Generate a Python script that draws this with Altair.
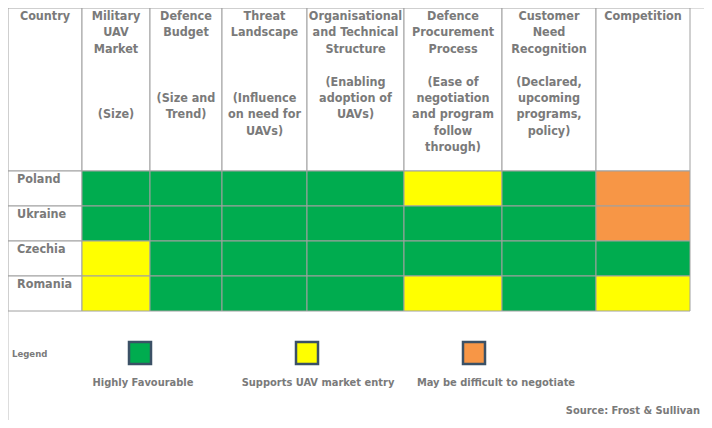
import altair as alt
import pandas as pd

# ---------------- data ----------------
countries = ["Poland", "Ukraine", "Czechia", "Romania"]

header_lines = [
    ["Country"],
    ["Military", "UAV", "Market", "", "", "", "(Size)"],
    ["Defence", "Budget", "", "", "", "(Size and", "Trend)"],
    ["Threat", "Landscape", "", "", "", "(Influence", "on need for", "UAVs)"],
    ["Organisational", "and Technical", "Structure", "", "(Enabling", "adoption of", "UAVs)"],
    ["Defence", "Procurement", "Process", "", "(Ease of", "negotiation", "and program", "follow", "through)"],
    ["Customer", "Need", "Recognition", "", "(Declared,", "upcoming", "programs,", "policy)"],
    ["Competition"],
]

# HF = Highly Favourable, S = Supports UAV market entry, D = May be difficult to negotiate
ratings = {
    "Poland":  ["HF", "HF", "HF", "HF", "S",  "HF", "D"],
    "Ukraine": ["HF", "HF", "HF", "HF", "HF", "HF", "D"],
    "Czechia": ["S",  "HF", "HF", "HF", "HF", "HF", "HF"],
    "Romania": ["S",  "HF", "HF", "HF", "S",  "HF", "S"],
}

legend_codes = ["HF", "S", "D"]
legend_labels = ["Highly Favourable", "Supports UAV market entry", "May be difficult to negotiate"]
legend_colors = ["#00AC4F", "#FFFF00", "#F79646"]
source_text = "Source: Frost & Sullivan"

# ---------------- layout ----------------
W, H = 696, 412
COL_W = [74, 68, 72, 85, 97, 98, 94, 94]
HEADER_H = 163
ROW_H = 35
LINE_H = 16.4
SWATCH_X = [132, 299, 466]
SWATCH_Y = 345
SWATCH_HALF = 11
LABEL_X = [135, 310, 488]
LABEL_Y = 375

FONT = "'DejaVu Sans Condensed', 'Roboto Condensed', Roboto, sans-serif"
GRAY = "#7a7a7a"
GRID = "#a0a0a0"

edges = [0]
for w in COL_W:
    edges.append(edges[-1] + w)

# ---------------- tables ----------------
cells = []
for i, c in enumerate(countries):
    for j, r in enumerate(ratings[c]):
        cells.append(dict(x0=edges[j + 1], x1=edges[j + 2],
                          y0=HEADER_H + i * ROW_H, y1=HEADER_H + (i + 1) * ROW_H,
                          rating=r))
cells = pd.DataFrame(cells)

frames = []
for j in range(len(COL_W)):
    frames.append(dict(x0=edges[j], x1=edges[j + 1], y0=0, y1=HEADER_H))
for i in range(len(countries)):
    frames.append(dict(x0=edges[0], x1=edges[1],
                       y0=HEADER_H + i * ROW_H, y1=HEADER_H + (i + 1) * ROW_H))
frames = pd.DataFrame(frames)

heads = pd.DataFrame([dict(x=(edges[j] + edges[j + 1]) / 2, y=2 + k * LINE_H, label=line)
                      for j, lines in enumerate(header_lines)
                      for k, line in enumerate(lines) if line])

rows = pd.DataFrame([dict(x=9, y=HEADER_H + i * ROW_H + 2, label=c)
                     for i, c in enumerate(countries)])

swatches = pd.DataFrame([dict(x0=SWATCH_X[k] - SWATCH_HALF, x1=SWATCH_X[k] + SWATCH_HALF,
                              y0=SWATCH_Y - SWATCH_HALF, y1=SWATCH_Y + SWATCH_HALF,
                              rating=legend_codes[k])
                         for k in range(3)])
leg_labels = pd.DataFrame([dict(x=LABEL_X[k], y=LABEL_Y, label=legend_labels[k])
                           for k in range(3)])

xs = alt.Scale(domain=[0, W], nice=False, zero=False)
ys = alt.Scale(domain=[0, H], reverse=True, nice=False, zero=False)
cs = alt.Scale(domain=legend_codes, range=legend_colors)


def X(f):
    return alt.X(f, type="quantitative", scale=xs, axis=None)


def Y(f):
    return alt.Y(f, type="quantitative", scale=ys, axis=None)


frame_layer = alt.Chart(frames).mark_rect(fill="white", stroke=GRID, strokeWidth=1).encode(
    x=X("x0"), x2="x1", y=Y("y0"), y2="y1")

cell_layer = alt.Chart(cells).mark_rect(stroke=GRID, strokeWidth=1).encode(
    x=X("x0"), x2="x1", y=Y("y0"), y2="y1",
    color=alt.Color("rating:N", scale=cs, legend=None))

head_layer = alt.Chart(heads).mark_text(
    font=FONT, fontSize=12.5, fontWeight="bold", color=GRAY, align="center",
    baseline="top").encode(x=X("x"), y=Y("y"), text="label:N")

row_layer = alt.Chart(rows).mark_text(
    font=FONT, fontSize=12.5, fontWeight="bold", color=GRAY, align="left",
    baseline="top").encode(x=X("x"), y=Y("y"), text="label:N")

swatch_layer = alt.Chart(swatches).mark_rect(stroke="#3b5166", strokeWidth=2.5).encode(
    x=X("x0"), x2="x1", y=Y("y0"), y2="y1",
    color=alt.Color("rating:N", scale=cs, legend=None))

label_layer = alt.Chart(leg_labels).mark_text(
    font=FONT, fontSize=11, fontWeight="bold", color=GRAY, align="center",
    baseline="middle").encode(x=X("x"), y=Y("y"), text="label:N")

legend_title = alt.Chart(pd.DataFrame([dict(x=4, y=346, label="Legend")])).mark_text(
    font=FONT, fontSize=9.5, fontWeight="bold", color=GRAY, align="left",
    baseline="middle").encode(x=X("x"), y=Y("y"), text="label:N")

source_layer = alt.Chart(pd.DataFrame([dict(x=692, y=403, label=source_text)])).mark_text(
    font=FONT, fontSize=11, fontWeight="bold", color=GRAY, align="right",
    baseline="middle").encode(x=X("x"), y=Y("y"), text="label:N")

chart = alt.layer(frame_layer, cell_layer, head_layer, row_layer, swatch_layer,
                  label_layer, legend_title, source_layer).properties(
    width=W, height=H, autosize=alt.AutoSizeParams(type="none"), padding=0
).configure_view(strokeWidth=0, stroke="transparent", fill="transparent"
).configure(background="transparent")

chart.save("out.html", embed_options={"renderer": "svg", "actions": False})
